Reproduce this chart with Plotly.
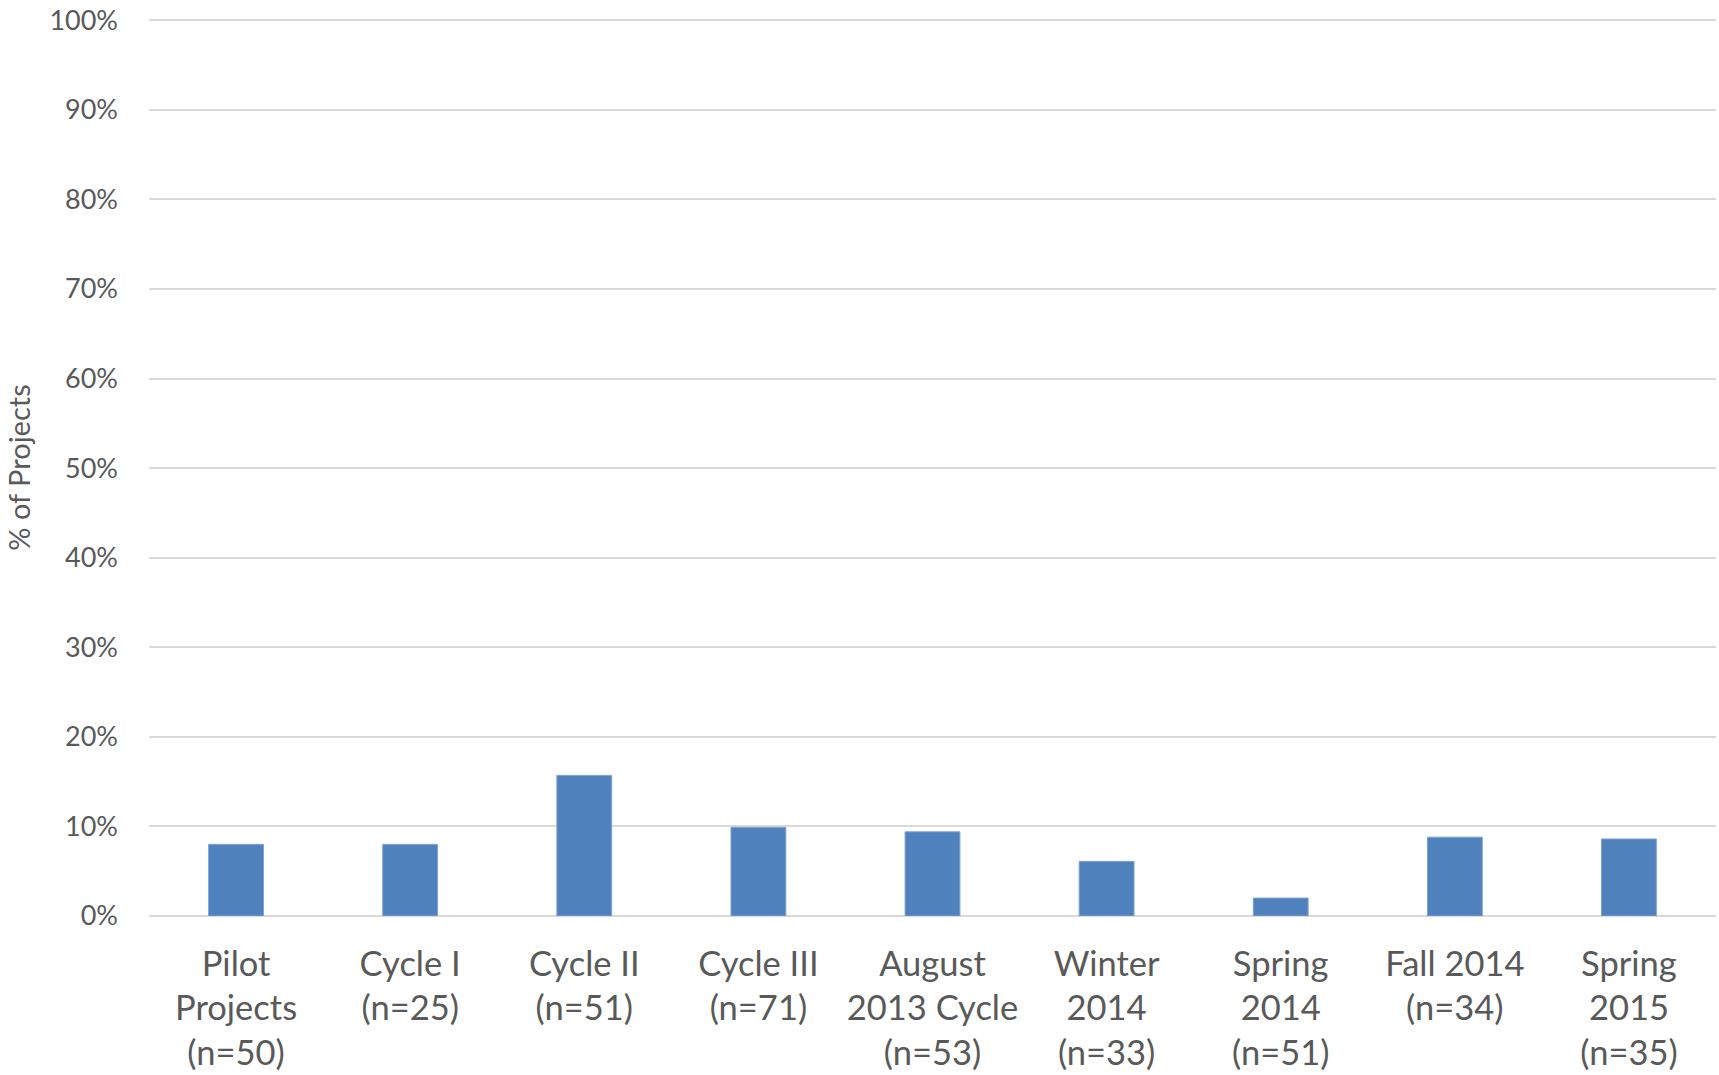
import plotly.graph_objects as go

categories = [
    "Pilot<br>Projects<br>(n=50)",
    "Cycle I<br>(n=25)",
    "Cycle II<br>(n=51)",
    "Cycle III<br>(n=71)",
    "August<br>2013 Cycle<br>(n=53)",
    "Winter<br>2014<br>(n=33)",
    "Spring<br>2014<br>(n=51)",
    "Fall 2014<br>(n=34)",
    "Spring<br>2015<br>(n=35)",
]
values_pct = [8.0, 8.0, 15.7, 9.9, 9.4, 6.1, 2.0, 8.8, 8.6]
y_ticks = [0, 10, 20, 30, 40, 50, 60, 70, 80, 90, 100]
y_tick_labels = [f"{v}%" for v in y_ticks]

TEXT = "#595959"
GRID = "#D9D9D9"
FONT = "Lato, 'Open Sans', sans-serif"

fig = go.Figure(
    go.Bar(
        x=categories,
        y=values_pct,
        marker=dict(color="#4F81BD", line=dict(color="#7FA3D0", width=1)),
        hoverinfo="x+y",
    )
)

fig.update_layout(
    width=1719,
    height=1075,
    margin=dict(l=149, r=3, t=18, b=158, pad=0),
    paper_bgcolor="white",
    plot_bgcolor="white",
    bargap=0.685,
    showlegend=False,
    font=dict(family=FONT, color=TEXT),
)

fig.update_xaxes(
    showgrid=False,
    showline=False,
    ticks="",
    tickfont=dict(size=34.5, color=TEXT, family=FONT),
    ticklabelstandoff=24,
)

fig.update_yaxes(
    range=[0, 100.15],
    tickvals=y_ticks,
    ticktext=y_tick_labels,
    showgrid=True,
    gridcolor=GRID,
    gridwidth=1.6,
    zeroline=True,
    zerolinecolor=GRID,
    zerolinewidth=2,
    showline=False,
    ticks="",
    ticklabelstandoff=30,
    tickfont=dict(size=27, color=TEXT, family=FONT),
    title=dict(text="% of Projects", font=dict(size=29, color=TEXT, family=FONT), standoff=10),
)

fig.write_html(
    "out.html",
    config={"displayModeBar": False},
    post_script="document.body.style.margin='0';document.body.style.overflow='hidden';",
)
